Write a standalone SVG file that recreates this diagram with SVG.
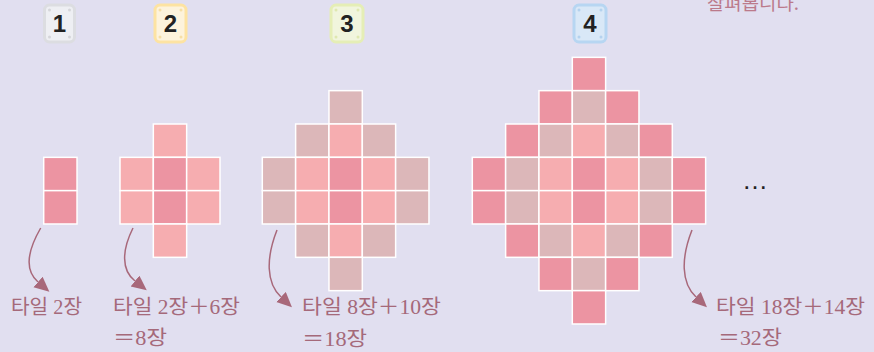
<svg xmlns="http://www.w3.org/2000/svg" width="874" height="352" viewBox="0 0 874 352">
<style>
.bg{fill:#e1dff0}
.t{stroke:#ffffff;stroke-width:1.5}
.d{fill:#ec94a2}
.l{fill:#f6adb0}
.m{fill:#dcb7b9}
.num{font-family:"Liberation Sans",Arial,sans-serif;font-weight:bold;font-size:24px;fill:#222222;text-anchor:middle}
.lab{font-family:"Liberation Serif","Noto Sans CJK KR",serif;font-size:20px;fill:#a5697a}
.arr{fill:none;stroke:#a8687a;stroke-width:1.5}
</style>
<defs>
<marker id="ah" markerUnits="userSpaceOnUse" markerWidth="18" markerHeight="16" refX="0" refY="7" orient="auto">
<path d="M0,0 L15,7 L0,14 z" fill="#a8687a"/>
</marker>
</defs>
<rect class="bg" x="0" y="0" width="874" height="352"/>
<text x="707" y="9.5" font-family="Noto Sans CJK KR,sans-serif" font-size="17.5" fill="#bb7a8b" textLength="92" lengthAdjust="spacingAndGlyphs">살펴봅니다.</text>

<g id="badge1">
<rect x="44.5" y="5" width="30" height="37" rx="5" fill="#eeeff3" stroke="#dcdde1" stroke-width="3"/>
<g fill="#d5d6da"><circle cx="49.5" cy="10" r="1.5"/><circle cx="69.5" cy="10" r="1.5"/><circle cx="49.5" cy="37" r="1.5"/><circle cx="69.5" cy="37" r="1.5"/></g>
<text class="num" x="59.5" y="32">1</text>
</g>
<g id="badge2">
<rect x="155" y="5" width="31" height="37" rx="5" fill="#fdf3dc" stroke="#fde3a2" stroke-width="3"/>
<g fill="#f6dfa6"><circle cx="160" cy="10" r="1.5"/><circle cx="181" cy="10" r="1.5"/><circle cx="160" cy="37" r="1.5"/><circle cx="181" cy="37" r="1.5"/></g>
<text class="num" x="170.5" y="32">2</text>
</g>
<g id="badge3">
<rect x="331" y="5" width="32" height="37" rx="5" fill="#f1f5dd" stroke="#e5eeb6" stroke-width="3"/>
<g fill="#dfe8b0"><circle cx="336" cy="10" r="1.5"/><circle cx="358" cy="10" r="1.5"/><circle cx="336" cy="37" r="1.5"/><circle cx="358" cy="37" r="1.5"/></g>
<text class="num" x="347" y="32">3</text>
</g>
<g id="badge4">
<rect x="574" y="5" width="32" height="37" rx="5" fill="#d9e8f7" stroke="#b7d6f2" stroke-width="3"/>
<g fill="#b4d2ee"><circle cx="579" cy="10" r="1.5"/><circle cx="601" cy="10" r="1.5"/><circle cx="579" cy="37" r="1.5"/><circle cx="601" cy="37" r="1.5"/></g>
<text class="num" x="590" y="32">4</text>
</g>

<g id="pattern1" transform="translate(43.7,57.33)">
<rect class="t d" x="0" y="100" width="33.33" height="33.33"/>
<rect class="t d" x="0" y="133.33" width="33.33" height="33.33"/>
</g>

<g id="pattern2" transform="translate(120,57.33)">
<rect class="t l" x="33.33" y="66.67" width="33.33" height="33.33"/>
<rect class="t l" x="0" y="100" width="33.33" height="33.33"/>
<rect class="t d" x="33.33" y="100" width="33.33" height="33.33"/>
<rect class="t l" x="66.67" y="100" width="33.33" height="33.33"/>
<rect class="t l" x="0" y="133.33" width="33.33" height="33.33"/>
<rect class="t d" x="33.33" y="133.33" width="33.33" height="33.33"/>
<rect class="t l" x="66.67" y="133.33" width="33.33" height="33.33"/>
<rect class="t l" x="33.33" y="166.67" width="33.33" height="33.33"/>
</g>

<g id="pattern3" transform="translate(262.3,57.33)">
<rect class="t m" x="66.67" y="33.33" width="33.33" height="33.33"/>
<rect class="t m" x="33.33" y="66.67" width="33.33" height="33.33"/>
<rect class="t l" x="66.67" y="66.67" width="33.33" height="33.33"/>
<rect class="t m" x="100" y="66.67" width="33.33" height="33.33"/>
<rect class="t m" x="0" y="100" width="33.33" height="33.33"/>
<rect class="t l" x="33.33" y="100" width="33.33" height="33.33"/>
<rect class="t d" x="66.67" y="100" width="33.33" height="33.33"/>
<rect class="t l" x="100" y="100" width="33.33" height="33.33"/>
<rect class="t m" x="133.33" y="100" width="33.33" height="33.33"/>
<rect class="t m" x="0" y="133.33" width="33.33" height="33.33"/>
<rect class="t l" x="33.33" y="133.33" width="33.33" height="33.33"/>
<rect class="t d" x="66.67" y="133.33" width="33.33" height="33.33"/>
<rect class="t l" x="100" y="133.33" width="33.33" height="33.33"/>
<rect class="t m" x="133.33" y="133.33" width="33.33" height="33.33"/>
<rect class="t m" x="33.33" y="166.67" width="33.33" height="33.33"/>
<rect class="t l" x="66.67" y="166.67" width="33.33" height="33.33"/>
<rect class="t m" x="100" y="166.67" width="33.33" height="33.33"/>
<rect class="t m" x="66.67" y="200" width="33.33" height="33.33"/>
</g>

<g id="pattern4" transform="translate(472.3,57.33)">
<rect class="t d" x="100" y="0" width="33.33" height="33.33"/>
<rect class="t d" x="66.67" y="33.33" width="33.33" height="33.33"/>
<rect class="t m" x="100" y="33.33" width="33.33" height="33.33"/>
<rect class="t d" x="133.33" y="33.33" width="33.33" height="33.33"/>
<rect class="t d" x="33.33" y="66.67" width="33.33" height="33.33"/>
<rect class="t m" x="66.67" y="66.67" width="33.33" height="33.33"/>
<rect class="t l" x="100" y="66.67" width="33.33" height="33.33"/>
<rect class="t m" x="133.33" y="66.67" width="33.33" height="33.33"/>
<rect class="t d" x="166.67" y="66.67" width="33.33" height="33.33"/>
<rect class="t d" x="0" y="100" width="33.33" height="33.33"/>
<rect class="t m" x="33.33" y="100" width="33.33" height="33.33"/>
<rect class="t l" x="66.67" y="100" width="33.33" height="33.33"/>
<rect class="t d" x="100" y="100" width="33.33" height="33.33"/>
<rect class="t l" x="133.33" y="100" width="33.33" height="33.33"/>
<rect class="t m" x="166.67" y="100" width="33.33" height="33.33"/>
<rect class="t d" x="200" y="100" width="33.33" height="33.33"/>
<rect class="t d" x="0" y="133.33" width="33.33" height="33.33"/>
<rect class="t m" x="33.33" y="133.33" width="33.33" height="33.33"/>
<rect class="t l" x="66.67" y="133.33" width="33.33" height="33.33"/>
<rect class="t d" x="100" y="133.33" width="33.33" height="33.33"/>
<rect class="t l" x="133.33" y="133.33" width="33.33" height="33.33"/>
<rect class="t m" x="166.67" y="133.33" width="33.33" height="33.33"/>
<rect class="t d" x="200" y="133.33" width="33.33" height="33.33"/>
<rect class="t d" x="33.33" y="166.67" width="33.33" height="33.33"/>
<rect class="t m" x="66.67" y="166.67" width="33.33" height="33.33"/>
<rect class="t l" x="100" y="166.67" width="33.33" height="33.33"/>
<rect class="t m" x="133.33" y="166.67" width="33.33" height="33.33"/>
<rect class="t d" x="166.67" y="166.67" width="33.33" height="33.33"/>
<rect class="t d" x="66.67" y="200" width="33.33" height="33.33"/>
<rect class="t m" x="100" y="200" width="33.33" height="33.33"/>
<rect class="t d" x="133.33" y="200" width="33.33" height="33.33"/>
<rect class="t d" x="100" y="233.33" width="33.33" height="33.33"/>
</g>

<g id="connectors">
<path class="arr" d="M40.7,228 C28,250 24,270 38,282" marker-end="url(#ah)"/>
<path class="arr" d="M133,228 C122,250 121,270 135,281" marker-end="url(#ah)"/>
<path class="arr" d="M277,230 C266,258 266,283 281,297" marker-end="url(#ah)"/>
<path class="arr" d="M692,230 C681,258 681,283 696,297" marker-end="url(#ah)"/>
</g>

<g id="label1"><text class="lab" x="11" y="314" textLength="71" lengthAdjust="spacingAndGlyphs">타일 2장</text></g>
<g id="label2">
<text class="lab" x="113" y="314" textLength="127" lengthAdjust="spacingAndGlyphs">타일 2장＋6장</text>
<text class="lab" x="113" y="345" textLength="54" lengthAdjust="spacingAndGlyphs">＝8장</text>
</g>
<g id="label3">
<text class="lab" x="302" y="314" textLength="139" lengthAdjust="spacingAndGlyphs">타일 8장＋10장</text>
<text class="lab" x="302" y="346" textLength="65" lengthAdjust="spacingAndGlyphs">＝18장</text>
</g>
<g id="label4">
<text class="lab" x="716" y="314" textLength="149" lengthAdjust="spacingAndGlyphs">타일 18장＋14장</text>
<text class="lab" x="718" y="345" textLength="64" lengthAdjust="spacingAndGlyphs">＝32장</text>
</g>
<text x="742" y="189" font-family="Liberation Sans,sans-serif" font-size="26" fill="#222222">…</text>
</svg>
